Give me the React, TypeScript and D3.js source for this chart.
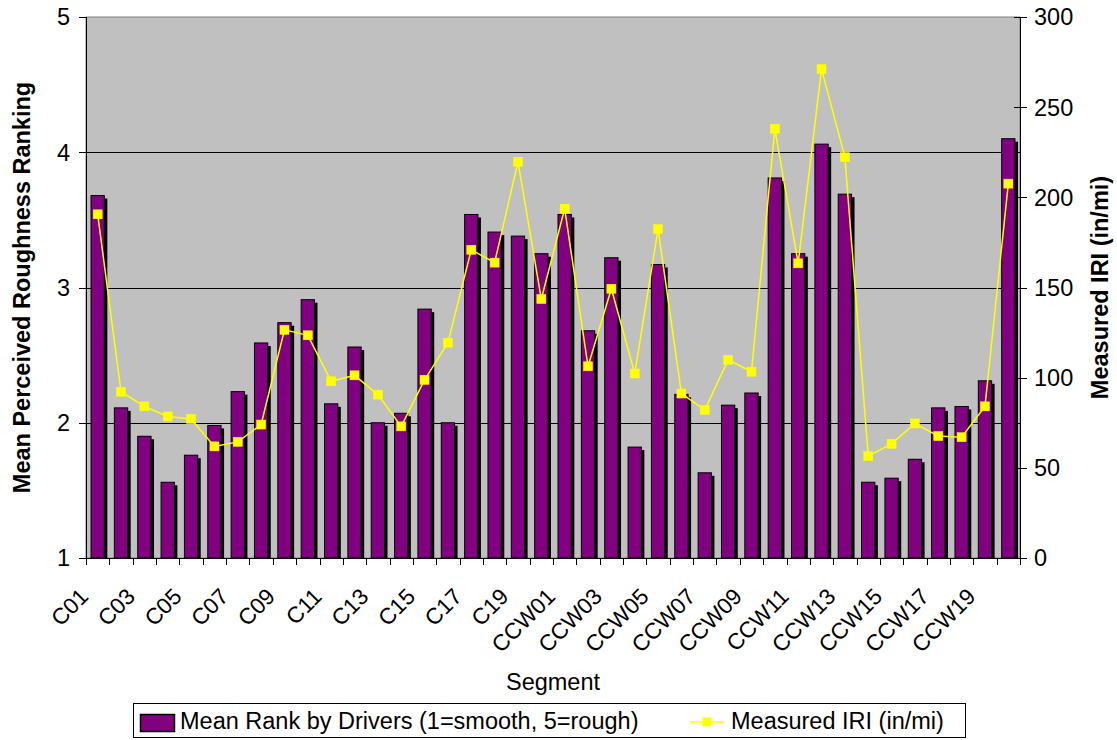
import React from 'react';
import * as d3 from 'd3';

const segments = [
  'C01','C02','C03','C04','C05','C06','C07','C08','C09','C10',
  'C11','C12','C13','C14','C15','C16','C17','C18','C19','C20',
  'CCW01','CCW02','CCW03','CCW04','CCW05','CCW06','CCW07','CCW08','CCW09','CCW10',
  'CCW11','CCW12','CCW13','CCW14','CCW15','CCW16','CCW17','CCW18','CCW19','CCW20',
];
const meanRank = [
  3.68, 2.11, 1.90, 1.56, 1.76, 1.98, 2.23, 2.59, 2.74, 2.91,
  2.14, 2.56, 2.00, 2.07, 2.84, 2.00, 3.54, 3.41, 3.38, 3.25,
  3.54, 2.68, 3.22, 1.82, 3.17, 2.21, 1.63, 2.13, 2.22, 3.81,
  3.25, 4.06, 3.69, 1.56, 1.59, 1.73, 2.11, 2.12, 2.31, 4.10,
];
const measuredIRI = [
  190.6, 92.2, 84.1, 78.5, 77.1, 61.9, 64.4, 74.0, 126.5, 123.5,
  98.0, 101.3, 90.6, 73.0, 98.8, 119.4, 170.9, 163.8, 219.7, 143.6,
  193.7, 106.3, 149.3, 102.3, 182.4, 91.2, 82.1, 109.9, 103.3, 238.0,
  163.4, 271.1, 222.3, 56.5, 63.3, 74.6, 67.6, 67.0, 84.1, 207.6,
];
const rankTicks = [1, 2, 3, 4, 5];
const iriTicks = [0, 50, 100, 150, 200, 250, 300];
const labelledSegments = segments.filter((_, i) => i % 2 === 0);

const FONT = '"Liberation Sans", Arial, sans-serif';
const FS = 23.5;
const FS_X = 22.5;

export default function App() {
  const W = 1117, H = 740;
  const x0 = 86, x1 = 1020, yTop = 17, yBot = 558;

  const x = d3.scaleBand<string>().domain(segments).range([x0, x1]).paddingInner(0.43).paddingOuter(0.215);
  const yL = d3.scaleLinear().domain([1, 5]).range([yBot, yTop]);
  const yR = d3.scaleLinear().domain([0, 300]).range([yBot, yTop]);
  const bw = x.bandwidth();
  const step = x.step();

  const cx = (s: string) => (x(s) as number) + bw / 2;
  const line = d3.line<number>().x((_, i) => cx(segments[i])).y(d => yR(d));

  const boundaries = d3.range(segments.length + 1).map(i => x0 + i * step);

  return (
    <svg width={W} height={H} style={{ position: 'absolute', left: 0, top: 0, background: '#fff' }} fontFamily={FONT}>
      {/* plot area */}
      <rect x={x0} y={yTop} width={x1 - x0} height={yBot - yTop} fill="#C0C0C0" stroke="#808080" strokeWidth={1} />
      {/* gridlines */}
      {rankTicks.slice(1, -1).map(t => (
        <line key={t} x1={x0} x2={x1} y1={Math.round(yL(t)) + 0.5} y2={Math.round(yL(t)) + 0.5} stroke="#000" strokeWidth={1} />
      ))}
      {/* bars */}
      {segments.map((s, i) => {
        const bx = x(s) as number;
        const by = yL(meanRank[i]);
        return (
          <g key={s}>
            <rect x={bx + 3} y={by + 3} width={bw} height={yBot - by - 3} fill="#000" />
            <rect x={bx} y={by} width={bw} height={yBot - by} fill="#800080" stroke="#000" strokeWidth={1} />
          </g>
        );
      })}
      {/* IRI line */}
      <path d={line(measuredIRI) as string} fill="none" stroke="#FFFF00" strokeWidth={1.5} />
      {measuredIRI.map((v, i) => (
        <rect key={i} x={cx(segments[i]) - 4.5} y={yR(v) - 4.5} width={9} height={9} fill="#FFFF00" stroke="#FFFF00" strokeWidth={0.5} />
      ))}
      {/* left axis */}
      <line x1={x0 + 0.5} x2={x0 + 0.5} y1={yTop} y2={yBot} stroke="#000" />
      {rankTicks.map(t => (
        <g key={t}>
          <line x1={x0 - 7} x2={x0} y1={Math.round(yL(t)) + 0.5} y2={Math.round(yL(t)) + 0.5} stroke="#000" />
          <text x={70} y={yL(t)} dy="0.36em" textAnchor="end" fontSize={FS}>{t}</text>
        </g>
      ))}
      {/* right axis */}
      <line x1={x1 + 0.5} x2={x1 + 0.5} y1={yTop} y2={yBot} stroke="#000" />
      {iriTicks.map(t => (
        <g key={t}>
          <line x1={x1 - 6} x2={x1 + 7} y1={Math.round(yR(t)) + 0.5} y2={Math.round(yR(t)) + 0.5} stroke="#000" />
          <text x={1034} y={yR(t)} dy="0.36em" textAnchor="start" fontSize={FS}>{t}</text>
        </g>
      ))}
      {/* bottom axis */}
      <line x1={x0} x2={x1} y1={yBot + 0.5} y2={yBot + 0.5} stroke="#000" />
      {boundaries.map((bx, i) => (
        <line key={i} x1={Math.round(bx) + 0.5} x2={Math.round(bx) + 0.5} y1={yBot} y2={yBot + 7} stroke="#000" />
      ))}
      {labelledSegments.map(s => (
        <g key={s} transform={`translate(${cx(s) - 8},${yBot + 40}) rotate(-45)`}>
          <text x={0} y={0} textAnchor="end" fontSize={FS_X}>{s}</text>
        </g>
      ))}
      {/* axis titles */}
      <text x={(x0 + x1) / 2} y={690} textAnchor="middle" fontSize={FS}>Segment</text>
      <g transform={`translate(30,${(yTop + yBot) / 2})`}>
        <text transform="rotate(-90)" textAnchor="middle" fontSize={FS} fontWeight="bold">Mean Perceived Roughness Ranking</text>
      </g>
      <g transform={`translate(1108,${(yTop + yBot) / 2})`}>
        <text transform="rotate(-90)" textAnchor="middle" fontSize={FS} fontWeight="bold">Measured IRI (in/mi)</text>
      </g>
      {/* legend */}
      <rect x={133.5} y={703.5} width={832} height={34} fill="#fff" stroke="#000" strokeWidth={1} />
      <rect x={140.5} y={714.5} width={34} height={17} fill="#800080" stroke="#000" strokeWidth={1.5} />
      <text x={180} y={729} fontSize={FS}>Mean Rank by Drivers (1=smooth, 5=rough)</text>
      <line x1={690} x2={724} y1={722} y2={722} stroke="#FFFF00" strokeWidth={1.5} />
      <rect x={702.5} y={717.5} width={9} height={9} fill="#FFFF00" />
      <text x={731} y={729} fontSize={FS}>Measured IRI (in/mi)</text>
    </svg>
  );
}
